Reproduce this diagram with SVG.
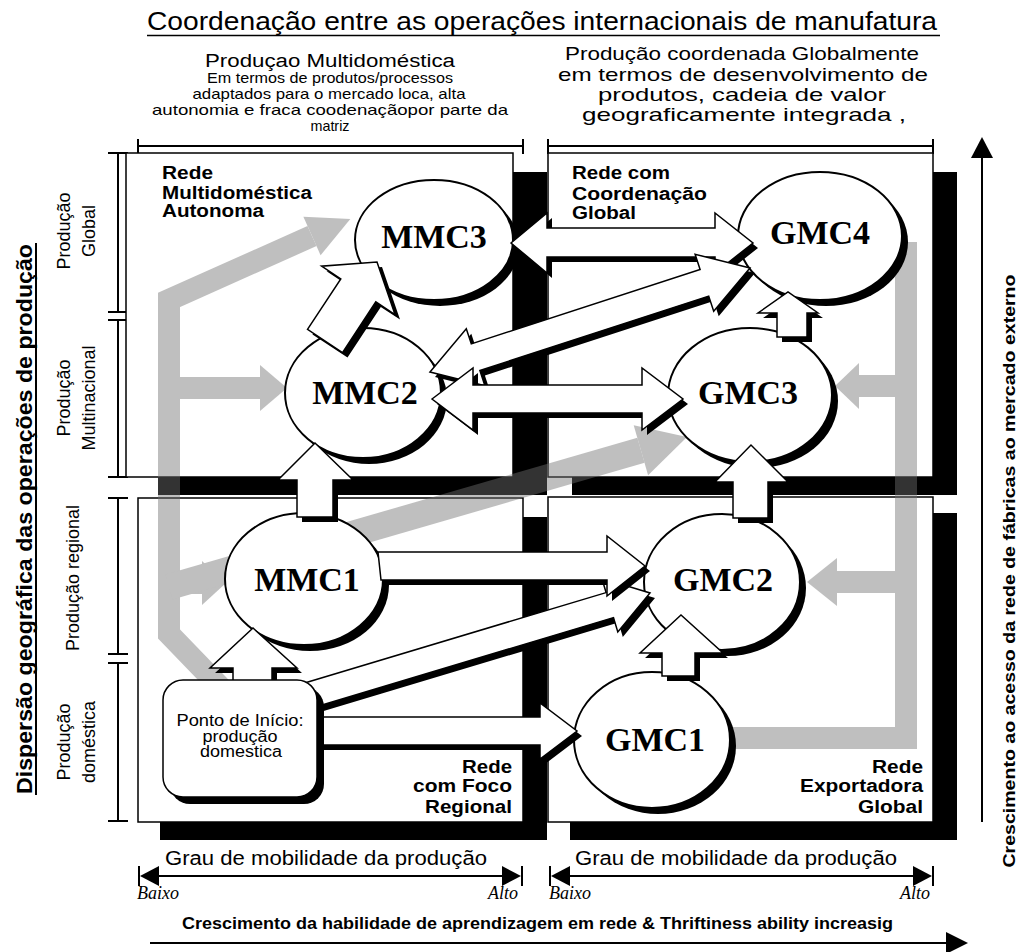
<svg xmlns="http://www.w3.org/2000/svg" width="1020" height="952" viewBox="0 0 1020 952">
<defs>
<style>
.sans{font-family:"Liberation Sans",Arial,sans-serif}
.box{fill:#fff;stroke:#000;stroke-width:1.5}
.shadow{fill:#000}
.ell{fill:#fff;stroke:#000;stroke-width:2}
.arrow{fill:#fff;stroke:#000;stroke-width:1.5;stroke-linejoin:miter}
.node{font-family:"Liberation Serif","Times New Roman",serif;font-weight:bold;font-size:34px;text-anchor:middle}
.net{font-family:"Liberation Sans",Arial,sans-serif;font-weight:bold;font-size:18px}
.hdr{font-family:"Liberation Sans",Arial,sans-serif;text-anchor:middle}
.ax{stroke:#000;stroke-width:2;fill:none}
.head{fill:#000}
.side{font-family:"Liberation Sans",Arial,sans-serif;font-size:18px;text-anchor:middle}
.it{font-family:"Liberation Serif","Times New Roman",serif;font-style:italic;font-size:18px}
.g{fill:#727272}
.gs{stroke:#727272;fill:none;stroke-linejoin:miter}
</style>
<polygon id="p_mmc3_gmc4" points="511,243 547,213 547,228 715,228 715,213 753,243 715,273 715,257 547,257 547,273"/>
<polygon id="p_mmc2_gmc4" points="430,372 466.3,328.7 471.3,343.9 700.1,269.5 695.1,254.3 750,268 713.7,311.3 708.7,296.1 479.9,370.5 484.9,385.7"/>
<polygon id="p_mmc2_gmc3" points="432,399 473,368 473,385 642,385 642,368 683,399 642,430 642,413 473,413 473,430"/>
<polygon id="p_mmc2_mmc3" points="307.5,329.4 340.8,278.9 321.6,266.2 377,262 395,314.6 375.8,301.9 342.5,352.6"/>
<polygon id="p_mmc1_mmc2" points="297,517 297,480 278,480 315,443 353,480 333,480 333,517"/>
<polygon id="p_start_mmc1" points="233,690 233,668 210,668 253,628 297,668 272,668 272,690"/>
<polygon id="p_mmc1_gmc2" points="378,552 607,552 607,536 645,566 607,596 607,580 381,580"/>
<polygon id="p_start_gmc2" points="287.1,688.2 606.1,592.6 601.8,578.3 650,593 617.8,631.9 613.5,617.6 294.5,713.2"/>
<polygon id="p_start_gmc1" points="300,717 540,717 540,703 577,731 540,759 540,745 300,745"/>
<polygon id="p_gmc1_gmc2" points="662,676 662,653 640,653 681,615 723,653 695,653 695,676"/>
<polygon id="p_gmc2_gmc3" points="733,518 733,482 715,482 751,445 788,482 768,482 768,518"/>
<polygon id="p_gmc3_gmc4" points="777,337 777,313 758,313 788,292 818,313 807,313 807,337"/>
</defs>
<rect width="1020" height="952" fill="#fff"/>

<g id="title">
<text class="sans" x="147" y="30" font-size="25" textLength="790" lengthAdjust="spacingAndGlyphs">Coordenação entre as operações internacionais de manufatura</text>
<line x1="147" y1="35.5" x2="940" y2="35.5" stroke="#000" stroke-width="1.5"/>
</g>

<g id="header-multidomestica">
<text class="hdr" x="330" y="67" font-size="18" textLength="250" lengthAdjust="spacingAndGlyphs">Produçao Multidoméstica</text>
<text class="hdr" x="330" y="83" font-size="14.5" textLength="246" lengthAdjust="spacingAndGlyphs">Em termos de produtos/processos</text>
<text class="hdr" x="329" y="99" font-size="14.5" textLength="273" lengthAdjust="spacingAndGlyphs">adaptados para o mercado loca, alta</text>
<text class="hdr" x="330" y="115" font-size="14.5" textLength="356" lengthAdjust="spacingAndGlyphs">autonomia e  fraca coodenaçãopor parte da</text>
<text class="hdr" x="330" y="131" font-size="14.5" textLength="39" lengthAdjust="spacingAndGlyphs">matriz</text>
<line class="ax" x1="138" y1="146" x2="523" y2="146"/>
<line class="ax" x1="138" y1="139" x2="138" y2="154"/>
<line class="ax" x1="523" y1="139" x2="523" y2="154"/>
</g>

<g id="header-global">
<text class="hdr" x="742" y="60" font-size="18.5" textLength="354" lengthAdjust="spacingAndGlyphs">Produção coordenada Globalmente</text>
<text class="hdr" x="743" y="81" font-size="18.5" textLength="370" lengthAdjust="spacingAndGlyphs">em termos de desenvolvimento de</text>
<text class="hdr" x="742" y="101" font-size="18.5" textLength="288" lengthAdjust="spacingAndGlyphs">produtos, cadeia de valor</text>
<text class="hdr" x="744" y="121" font-size="18.5" textLength="324" lengthAdjust="spacingAndGlyphs">geograficamente integrada ,</text>
<line class="ax" x1="548" y1="146" x2="933" y2="146"/>
<line class="ax" x1="548" y1="139" x2="548" y2="154"/>
<line class="ax" x1="933" y1="139" x2="933" y2="154"/>
</g>

<g id="axis-left">
<text class="sans" transform="translate(32,519) rotate(-90)" text-anchor="middle" font-size="22" font-weight="bold" textLength="550" lengthAdjust="spacingAndGlyphs">Dispersão geográfica das operações de produção</text>
<line x1="36" y1="243" x2="36" y2="795" stroke="#000" stroke-width="2"/>
<text class="side" transform="translate(70,231) rotate(-90)">Produção</text>
<text class="side" transform="translate(95,231) rotate(-90)">Global</text>
<text class="side" transform="translate(70,398) rotate(-90)">Produção</text>
<text class="side" transform="translate(95,398) rotate(-90)">Multinacional</text>
<text class="side" transform="translate(79,578) rotate(-90)">Produção regional</text>
<text class="side" transform="translate(70,742) rotate(-90)">Produção</text>
<text class="side" transform="translate(95,742) rotate(-90)">doméstica</text>
<line class="ax" x1="118" y1="153" x2="118" y2="312"/>
<line class="ax" x1="108" y1="153" x2="128" y2="153"/>
<line class="ax" x1="108" y1="312" x2="128" y2="312"/>
<line class="ax" x1="118" y1="320" x2="118" y2="477"/>
<line class="ax" x1="108" y1="320" x2="128" y2="320"/>
<line class="ax" x1="108" y1="477" x2="128" y2="477"/>
<line class="ax" x1="118" y1="498" x2="118" y2="654"/>
<line class="ax" x1="108" y1="498" x2="128" y2="498"/>
<line class="ax" x1="108" y1="654" x2="128" y2="654"/>
<line class="ax" x1="118" y1="663" x2="118" y2="821"/>
<line class="ax" x1="108" y1="663" x2="128" y2="663"/>
<line class="ax" x1="108" y1="821" x2="128" y2="821"/>
</g>

<g id="axis-right">
<line x1="982" y1="822" x2="982" y2="156" stroke="#000" stroke-width="2"/>
<polygon class="head" points="982,137 971,158 993,158"/>
<text class="sans" transform="translate(1015,571) rotate(-90)" text-anchor="middle" font-size="17" font-weight="bold" textLength="593" lengthAdjust="spacingAndGlyphs">Crescimento ao acesso da rede de fábricas ao mercado externo</text>
</g>

<g id="box-multidomestica-autonoma">
<rect class="shadow" x="158" y="172" width="389" height="323"/>
<rect class="box" x="126" y="153" width="387" height="324"/>
<text class="net" x="162" y="179" textLength="51" lengthAdjust="spacingAndGlyphs">Rede</text>
<text class="net" x="162" y="199" textLength="150" lengthAdjust="spacingAndGlyphs">Multidoméstica</text>
<text class="net" x="162" y="217" textLength="102" lengthAdjust="spacingAndGlyphs">Autonoma</text>
</g>
<g id="box-coordenacao-global">
<rect class="shadow" x="572" y="172" width="385" height="323"/>
<rect class="box" x="548" y="153" width="385" height="324"/>
<text class="net" x="572" y="179" textLength="98" lengthAdjust="spacingAndGlyphs">Rede com</text>
<text class="net" x="572" y="200" textLength="135" lengthAdjust="spacingAndGlyphs">Coordenação</text>
<text class="net" x="572" y="219" textLength="64" lengthAdjust="spacingAndGlyphs">Global</text>
</g>
<g id="box-foco-regional">
<rect class="shadow" x="160" y="517" width="387" height="323"/>
<rect class="box" x="138" y="498" width="385" height="324"/>
<text class="net" x="512" y="773" text-anchor="end" textLength="50" lengthAdjust="spacingAndGlyphs">Rede</text>
<text class="net" x="512" y="792" text-anchor="end" textLength="99" lengthAdjust="spacingAndGlyphs">com Foco</text>
<text class="net" x="512" y="813" text-anchor="end" textLength="87" lengthAdjust="spacingAndGlyphs">Regional</text>
</g>
<g id="box-exportadora-global">
<rect class="shadow" x="570" y="513" width="387" height="327"/>
<rect class="box" x="548" y="497" width="385" height="325"/>
<text class="net" x="923" y="773" text-anchor="end" textLength="51" lengthAdjust="spacingAndGlyphs">Rede</text>
<text class="net" x="923" y="792" text-anchor="end" textLength="123" lengthAdjust="spacingAndGlyphs">Exportadora</text>
<text class="net" x="923" y="813" text-anchor="end" textLength="65" lengthAdjust="spacingAndGlyphs">Global</text>
</g>

<g id="connectors-gray" opacity="0.45">
<path class="gs" stroke-width="22" d="M225,692 L169,634 L169,300 L312,236"/>
<polygon class="g" points="320.6,255.2 350.3,218.9 303.4,216.8"/>
<rect class="g" x="169" y="377" width="93" height="22"/>
<polygon class="g" points="260,365 287,388 260,411"/>
<rect class="g" x="169" y="572" width="35" height="22"/>
<polygon class="g" points="202,561 226,583 202,605"/>
<path class="gs" stroke-width="26" d="M169,587 L641,450.3"/>
<polygon class="g" points="633.7,425.3 687,437 648.1,475.3"/>
<path class="gs" stroke-width="22" d="M720,738 L906,738 L906,242"/>
<rect class="g" x="835" y="571" width="71" height="22"/>
<polygon class="g" points="837,558 807,582 837,606"/>
<rect class="g" x="857" y="375" width="49" height="22"/>
<polygon class="g" points="859,363 835,386 859,409"/>
</g>

<g id="node-MMC3">
<ellipse class="shadow" cx="440" cy="246" rx="79" ry="60"/>
<ellipse class="ell" cx="434" cy="240" rx="79" ry="60"/>
<text class="node" x="434" y="248">MMC3</text>
</g>
<g id="node-MMC2">
<ellipse class="shadow" cx="369" cy="399" rx="78" ry="65"/>
<ellipse class="ell" cx="363" cy="393" rx="78" ry="65"/>
<text class="node" x="365" y="404">MMC2</text>
</g>
<g id="node-MMC1">
<ellipse class="shadow" cx="310" cy="585" rx="79" ry="66"/>
<ellipse class="ell" cx="304" cy="579" rx="79" ry="66"/>
<text class="node" x="307" y="591">MMC1</text>
</g>
<g id="node-GMC4">
<ellipse class="shadow" cx="826" cy="242" rx="82" ry="64"/>
<ellipse class="ell" cx="820" cy="236" rx="82" ry="64"/>
<text class="node" x="820" y="244">GMC4</text>
</g>
<g id="node-GMC3">
<ellipse class="shadow" cx="756" cy="401" rx="82" ry="67"/>
<ellipse class="ell" cx="750" cy="395" rx="82" ry="67"/>
<text class="node" x="748" y="404">GMC3</text>
</g>
<g id="node-GMC2">
<ellipse class="shadow" cx="728" cy="588" rx="78" ry="68"/>
<ellipse class="ell" cx="722" cy="582" rx="78" ry="68"/>
<text class="node" x="723" y="591">GMC2</text>
</g>
<g id="node-GMC1">
<ellipse class="shadow" cx="658" cy="746" rx="78" ry="68"/>
<ellipse class="ell" cx="652" cy="740" rx="78" ry="68"/>
<text class="node" x="655" y="751">GMC1</text>
</g>

<g id="connectors">
<use href="#p_mmc3_gmc4" class="shadow" transform="translate(5,5)"/>
<use href="#p_mmc3_gmc4" class="arrow"/>
<use href="#p_mmc2_gmc4" class="shadow" transform="translate(5,5)"/>
<use href="#p_mmc2_gmc4" class="arrow"/>
<use href="#p_mmc2_gmc3" class="shadow" transform="translate(5,5)"/>
<use href="#p_mmc2_gmc3" class="arrow"/>
<use href="#p_mmc2_mmc3" class="shadow" transform="translate(5,5)"/>
<use href="#p_mmc2_mmc3" class="arrow"/>
<use href="#p_mmc1_mmc2" class="shadow" transform="translate(5,5)"/>
<use href="#p_mmc1_mmc2" class="arrow"/>
<use href="#p_gmc3_gmc4" class="shadow" transform="translate(5,5)"/>
<use href="#p_gmc3_gmc4" class="arrow"/>
<use href="#p_gmc2_gmc3" class="shadow" transform="translate(5,5)"/>
<use href="#p_gmc2_gmc3" class="arrow"/>
<use href="#p_start_gmc2" class="shadow" transform="translate(5,5)"/>
<use href="#p_start_gmc2" class="arrow"/>
<use href="#p_mmc1_gmc2" class="shadow" transform="translate(5,5)"/>
<use href="#p_mmc1_gmc2" class="arrow"/>
<use href="#p_gmc1_gmc2" class="shadow" transform="translate(5,5)"/>
<use href="#p_gmc1_gmc2" class="arrow"/>
<use href="#p_start_gmc1" class="shadow" transform="translate(5,5)"/>
<use href="#p_start_gmc1" class="arrow"/>
<use href="#p_start_mmc1" class="shadow" transform="translate(5,5)"/>
<use href="#p_start_mmc1" class="arrow"/>
</g>

<g id="node-start">
<rect class="shadow" x="170" y="687" width="154" height="117" rx="20"/>
<rect class="box" x="163" y="680" width="154" height="117" rx="20"/>
<text class="hdr" x="240" y="726" font-size="16" textLength="127" lengthAdjust="spacingAndGlyphs">Ponto de Início:</text>
<text class="hdr" x="240" y="742" font-size="16" textLength="75" lengthAdjust="spacingAndGlyphs">produção</text>
<text class="hdr" x="241" y="757" font-size="16" textLength="82" lengthAdjust="spacingAndGlyphs">domestica</text>
</g>

<g id="axis-mobility-left">
<text class="hdr" x="326" y="865" font-size="20" textLength="322" lengthAdjust="spacingAndGlyphs">Grau de mobilidade da produção</text>
<line class="ax" x1="145" y1="876" x2="516" y2="876"/>
<polygon class="head" points="140,876 159,866 159,886"/>
<polygon class="head" points="521,876 502,866 502,886"/>
<line class="ax" x1="139" y1="866" x2="139" y2="886"/>
<line class="ax" x1="522" y1="866" x2="522" y2="886"/>
<text class="it" x="137" y="899">Baixo</text>
<text class="it" x="518" y="899" text-anchor="end">Alto</text>
</g>
<g id="axis-mobility-right">
<text class="hdr" x="736" y="865" font-size="20" textLength="322" lengthAdjust="spacingAndGlyphs">Grau de mobilidade da produção</text>
<line class="ax" x1="556" y1="876" x2="928" y2="876"/>
<polygon class="head" points="551,876 570,866 570,886"/>
<polygon class="head" points="932,876 913,866 913,886"/>
<line class="ax" x1="550" y1="866" x2="550" y2="886"/>
<line class="ax" x1="933" y1="866" x2="933" y2="886"/>
<text class="it" x="549" y="899">Baixo</text>
<text class="it" x="930" y="899" text-anchor="end">Alto</text>
</g>

<g id="axis-bottom">
<text class="sans" x="182" y="929" font-size="17" font-weight="bold" textLength="711" lengthAdjust="spacingAndGlyphs">Crescimento da habilidade de aprendizagem em rede &amp; Thriftiness ability increasig</text>
<line x1="150" y1="943" x2="950" y2="943" stroke="#000" stroke-width="2"/>
<polygon class="head" points="968,943 946,932 946,954"/>
</g>
</svg>
